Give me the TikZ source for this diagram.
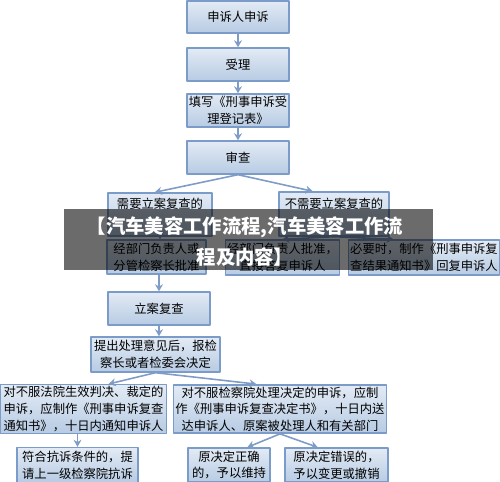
\documentclass[tikz,border=0pt]{standalone}
\usepackage{fontspec}
\setmainfont{Noto Sans CJK SC}
\usetikzlibrary{arrows.meta,calc}

\definecolor{boxline}{HTML}{7B9BC8}
\definecolor{boxtop}{HTML}{E3EBF5}
\definecolor{boxbot}{HTML}{B7CBE3}
\definecolor{fleche}{HTML}{7F9CC6}

\tikzset{
  etape/.style 2 args={draw=boxline, line width=0.8pt, top color=boxtop, bottom color=boxbot,
    minimum width=#1*0.02cm, minimum height=#2*0.02cm, inner sep=1pt, align=center,
    font=\fontsize{7}{9.5}\selectfont},
  lien/.style={fleche, line width=0.9pt, -{Stealth[length=4pt,width=4.5pt]}},
  bandeau/.style={text=white, inner sep=0pt, font=\bfseries\fontsize{11}{13}\selectfont},
}

\begin{document}
\begin{tikzpicture}[x=0.02cm, y=-0.02cm, line join=round]

    \useasboundingbox (0,0) rectangle (500,482);

    % Tronc : de l'申诉 jusqu'au 审查
    \node[etape={102}{32}] (shensu) at (238,17) {申诉人申诉};
    \node[etape={102}{33}] (shouli) at (238,64.5) {受理};
    \node[etape={102}{33}] (tianxie) at (238,110.5) {填写《刑事申诉受\\理登记表》};
    \node[etape={102}{33}] (shencha) at (238,157.5) {审查};

    % Deux branches
    \node[etape={104}{43}] (xuyao) at (160,214.5) {需要立案复查的\\\strut};
    \node[etape={110}{44}] (buxuyao) at (334,214) {不需要立案复查的\\\strut};
    \node[etape={99}{34}] (pizhun) at (156.5,257) {经部门负责人或\\分管检察长批准};
    \node[etape={111}{35}] (dafu) at (282.5,257.5) {经部门负责人批准，\\直接答复申诉人};
    \node[etape={151}{35}] (biyao) at (424,257.5) {必要时，制作《刑事申诉复\\查结果通知书》回复申诉人};

    % 立案复查
    \node[etape={102}{33}] (lian) at (159,308.5) {立案复查};
    \node[etape={129}{35}] (tichu) at (155.5,354.5) {提出处理意见后，报检\\察长或者检委会决定};

    % Décisions
    \node[etape={166}{48}] (fayuan) at (83.5,409) {对不服法院生效判决、裁定的\\申诉，应制作《刑事申诉复查\\通知书》，十日内通知申诉人};
    \node[etape={210}{48}] (jianchayuan) at (280,409) {对不服检察院处理决定的申诉，应制\\作《刑事申诉复查决定书》，十日内送\\达申诉人、原案被处理人和有关部门};
    \node[etape={121}{35}] (kangsu) at (77.5,465) {符合抗诉条件的，提\\请上一级检察院抗诉};
    \node[etape={82}{34}] (weichi) at (229,465) {原决定正确\\的，予以维持};
    \node[etape={103}{34}] (biangeng) at (336.5,465) {原决定错误的，\\予以变更或撤销};

    % Flèches
    \draw[lien] (shensu) -- (shouli);
    \draw[lien] (shouli) -- (tianxie);
    \draw[lien] (tianxie) -- (shencha);
    \draw[lien] (shencha.south) -- ($(xuyao.north west)!0.45!(xuyao.north east)$);
    \draw[lien] (shencha.south) -- ($(buxuyao.north west)!0.31!(buxuyao.north east)$);
    \draw[lien] (xuyao.south) -- (xuyao.south |- pizhun.north);
    \draw[lien] (buxuyao.south) -- (dafu.north);
    \draw[lien] (buxuyao.south) -- ($(biyao.north west)!0.3!(biyao.north east)$);
    \draw[lien] (lian.north |- pizhun.south) -- (lian.north);
    \draw[lien] (lian.south) -- (lian.south |- tichu.north);
    \draw[lien] (tichu.south) -- ($(fayuan.north west)!0.65!(fayuan.north east)$);
    \draw[lien] (tichu.south) -- ($(jianchayuan.north west)!0.39!(jianchayuan.north east)$);
    \draw[lien] (kangsu.north |- fayuan.south) -- (kangsu.north);
    \draw[lien] (jianchayuan.south) -- ($(weichi.north west)!0.72!(weichi.north east)$);
    \draw[lien] (jianchayuan.south) -- ($(biangeng.north west)!0.32!(biangeng.north east)$);

    % Bandeau du titre
    \fill[black, opacity=0.58] (64,209) rectangle (433,270);
    \node[bandeau] (titre1) at (245,227) {【汽车美容工作流程,汽车美容工作流};
    \node[bandeau] (titre2) at (245,257) {程及内容】};

\end{tikzpicture}
\end{document}
